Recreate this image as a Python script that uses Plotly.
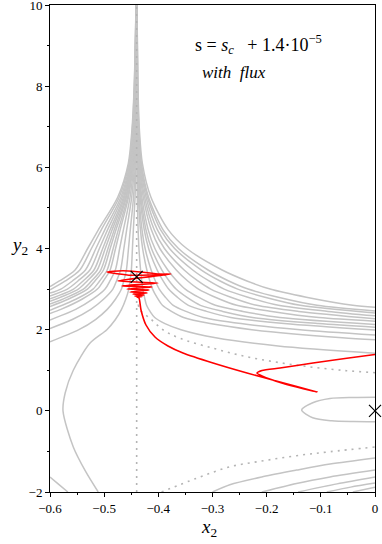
import plotly.graph_objects as go

# ---- level curves left of the spike (enter at x=-0.6, rise into the spike) ----
GRID_L = [2.0, 2.25, 2.5, 2.75, 3.0, 3.2, 3.47, 4.0, 4.46, 5.27, 6.1, 6.93, 8.0, 10.0]
LEFT_EDGE_Y = [1.70, 2.03, 2.24, 2.40, 2.48, 2.57, 2.63, 2.70, 2.76, 2.83, 2.90, 2.98, 3.06]
LEFT_X = [
    [-0.5467, -0.5160, -0.4943, -0.4792, -0.4681, -0.4639, -0.4590, -0.4551, -0.4518, -0.4458, -0.4426, -0.4415, -0.4408, -0.4402],
    [-0.5588, -0.5248, -0.5012, -0.4839, -0.4773, -0.4697, -0.4636, -0.4585, -0.4491, -0.4440, -0.4423, -0.4412, -0.4403],
    [-0.5526, -0.5212, -0.4983, -0.4894, -0.4794, -0.4714, -0.4645, -0.4521, -0.4453, -0.4430, -0.4416, -0.4404],
    [-0.5800, -0.5410, -0.5125, -0.5015, -0.4890, -0.4790, -0.4705, -0.4550, -0.4467, -0.4438, -0.4420, -0.4405],
    [-0.5523, -0.5206, -0.5084, -0.4945, -0.4834, -0.4739, -0.4567, -0.4474, -0.4442, -0.4422, -0.4406],
    [-0.5667, -0.5309, -0.5171, -0.5014, -0.4889, -0.4782, -0.4588, -0.4483, -0.4447, -0.4425, -0.4406],
    [-0.5770, -0.5383, -0.5234, -0.5064, -0.4929, -0.4814, -0.4603, -0.4490, -0.4451, -0.4427, -0.4407],
    [-0.5477, -0.5314, -0.5128, -0.4980, -0.4853, -0.4623, -0.4499, -0.4456, -0.4430, -0.4407],
    [-0.5566, -0.5389, -0.5188, -0.5027, -0.4890, -0.4641, -0.4507, -0.4460, -0.4432, -0.4408],
    [-0.5679, -0.5485, -0.5264, -0.5088, -0.4938, -0.4665, -0.4517, -0.4466, -0.4435, -0.4409],
    [-0.5800, -0.5587, -0.5346, -0.5153, -0.4989, -0.4690, -0.4528, -0.4472, -0.4439, -0.4410],
    [-0.5716, -0.5449, -0.5235, -0.5053, -0.4721, -0.4542, -0.4480, -0.4443, -0.4411],
    [-0.5827, -0.5537, -0.5305, -0.5108, -0.4748, -0.4554, -0.4487, -0.4446, -0.4412],
]

# innermost left branch: comes up from the bottom edge, bulges left, then climbs the spike
C_CURVE_X = [-0.511, -0.534, -0.557, -0.576, -0.572, -0.557, -0.526,
             -0.495, -0.4792, -0.468, -0.4602, -0.4545, -0.4523, -0.4498, -0.4478,
             -0.4461, -0.4430, -0.4413, -0.4408, -0.4404, -0.4401]
C_CURVE_Y = [-2.0, -1.5, -0.89, 0.0, 0.44, 1.0, 1.67,
             2.0, 2.25, 2.5, 2.75, 3.0, 3.2, 3.47, 4.0, 4.46, 5.27, 6.1, 6.93, 8.0, 10.0]

# lower piece of the outermost-but-one left level
BL_X = [-0.6, -0.585, -0.567]
BL_Y = [-1.63, -1.8, -2.0]

# ---- level curves right of the spike (leave at x=0) ----
GRID_R = [1.6, 1.8, 2.0, 2.15, 2.3, 2.45, 2.6, 2.8, 3.0, 3.2, 3.47, 4.0, 4.46, 5.27, 6.1, 6.93, 8.0, 10.0]
RIGHT_EDGE_Y = [1.42, 1.75, 1.87, 1.99, 2.06, 2.13, 2.21, 2.27, 2.34, 2.41, 2.46, 2.55]
RIGHT_X = [
    [-0.179, -0.294, -0.3582, -0.3878, -0.4067, -0.4153, -0.4217, -0.4256, -0.4287, -0.4307, -0.4328, -0.4358, -0.4373, -0.4388, -0.4395, -0.4398, -0.4399, -0.4400],
    [-0.0604, -0.2273, -0.3043, -0.3534, -0.3758, -0.3924, -0.4027, -0.4106, -0.4157, -0.4212, -0.4290, -0.4330, -0.4369, -0.4388, -0.4394, -0.4397, -0.4399],
    [-0.1382, -0.2474, -0.3171, -0.3489, -0.3725, -0.3870, -0.3983, -0.4055, -0.4133, -0.4244, -0.4301, -0.4356, -0.4382, -0.4392, -0.4396, -0.4399],
    [-0.1675, -0.2662, -0.3111, -0.3445, -0.3650, -0.3810, -0.3912, -0.4022, -0.4179, -0.4260, -0.4337, -0.4375, -0.4388, -0.4394, -0.4398],
    [-0.1044, -0.2259, -0.2812, -0.3223, -0.3477, -0.3673, -0.3799, -0.3934, -0.4127, -0.4228, -0.4323, -0.4369, -0.4385, -0.4393, -0.4398],
    [-0.1756, -0.2439, -0.2947, -0.3260, -0.3503, -0.3658, -0.3825, -0.4063, -0.4187, -0.4305, -0.4362, -0.4382, -0.4391, -0.4397],
    [-0.1037, -0.1905, -0.2552, -0.2950, -0.3259, -0.3457, -0.3669, -0.3972, -0.4129, -0.4279, -0.4352, -0.4377, -0.4389, -0.4397],
    [-0.1411, -0.2186, -0.2662, -0.3033, -0.3270, -0.3524, -0.3887, -0.4076, -0.4255, -0.4342, -0.4372, -0.4387, -0.4396],
    [-0.0868, -0.1783, -0.2347, -0.2784, -0.3064, -0.3365, -0.3794, -0.4017, -0.4228, -0.4331, -0.4367, -0.4385, -0.4395],
    [-0.1380, -0.2031, -0.2535, -0.2859, -0.3205, -0.3700, -0.3958, -0.4202, -0.4321, -0.4362, -0.4382, -0.4395],
    [-0.1069, -0.1786, -0.2343, -0.2700, -0.3082, -0.3628, -0.3912, -0.4182, -0.4313, -0.4359, -0.4380, -0.4394],
    [-0.0411, -0.1269, -0.1937, -0.2364, -0.2822, -0.3476, -0.3816, -0.4138, -0.4295, -0.4350, -0.4376, -0.4393],
]

# ---- bottom-right level curves ----
BOTTOM_CURVES = [
    ([-0.300, -0.268, -0.206, -0.145, -0.083, 0.0], [-2.0, -1.82, -1.62, -1.46, -1.31, -1.16]),
    ([-0.209, -0.145, -0.083, 0.0], [-2.0, -1.79, -1.63, -1.46]),
    ([-0.142, -0.070, 0.0], [-2.0, -1.80, -1.63]),
    ([-0.089, -0.045, 0.0], [-2.0, -1.88, -1.78]),
    ([-0.041, 0.0], [-2.0, -1.88]),
]

# closed level around the equilibrium at the origin
OVAL_X = [0.0, -0.04, -0.083, -0.115, -0.1354, -0.115, -0.08, -0.04, 0.0]
OVAL_Y = [0.335, 0.33, 0.305, 0.2, 0.02, -0.17, -0.245, -0.265, -0.27]

# dotted curves
VLINE_X = [-0.44, -0.44]
VLINE_Y = [-2.0, 10.0]
SEP_X = [-0.437, -0.4339, -0.4154, -0.3908, -0.36, -0.2985, -0.2369, -0.1754, -0.1139, -0.0523, 0.0]
SEP_Y = [2.62, 2.485, 2.28, 1.992, 1.787, 1.541, 1.334, 1.186, 1.073, 0.989, 0.94]
SEP2_X = [-0.394, -0.329, -0.268, -0.206, -0.145, -0.083, 0.0]
SEP2_Y = [-2.0, -1.66, -1.38, -1.23, -1.105, -1.007, -0.89]

# red trajectory
RED_X = [-0.3850, -0.4650, -0.4948, -0.4500, -0.3766, -0.4745, -0.4006, -0.4671, -0.4117,
         -0.4578, -0.4172, -0.4523, -0.4209, -0.4468, -0.4265, -0.4431, -0.4302, -0.4394,
         -0.4357, -0.4320, -0.4228, -0.4062, -0.3822, -0.3545, -0.2991, -0.2363, -0.1754,
         -0.1071, -0.1662, -0.2086, -0.2178, -0.2086, -0.1754, -0.1145, -0.0554, 0.0]
RED_Y = [3.35, 3.45, 3.421, 3.34, 3.372, 3.200, 3.150, 3.076, 3.052,
         3.002, 2.978, 2.928, 2.904, 2.879, 2.854, 2.830, 2.818, 2.805,
         2.780, 2.485, 2.115, 1.819, 1.598, 1.425, 1.179, 0.932, 0.711,
         0.464, 0.661, 0.858, 0.932, 0.994, 1.056, 1.179, 1.290, 1.388]

# equilibria
EQ_X = [-0.44, 0.0]
EQ_Y = [3.3, 0.0]

GRAY = "#c4c4c4"
DOT = "#b4b4b4"
FONT = "Liberation Serif, Times New Roman, Times, DejaVu Serif, serif"

fig = go.Figure()


def gray_line(xs, ys):
    fig.add_trace(go.Scatter(x=xs, y=ys, mode="lines", hoverinfo="skip",
                             line=dict(color=GRAY, width=1.5, shape="spline", smoothing=0.8),
                             showlegend=False))


for edge_y, xs in zip(LEFT_EDGE_Y, LEFT_X):
    gray_line([-0.6] + xs, [edge_y] + GRID_L[len(GRID_L) - len(xs):])
for edge_y, xs in zip(RIGHT_EDGE_Y, RIGHT_X):
    gray_line([0.0] + xs, [edge_y] + GRID_R[len(GRID_R) - len(xs):])
gray_line(C_CURVE_X, C_CURVE_Y)
gray_line(BL_X, BL_Y)
for xs, ys in BOTTOM_CURVES:
    gray_line(xs, ys)
gray_line(OVAL_X, OVAL_Y)

for xs, ys in [(VLINE_X, VLINE_Y), (SEP_X, SEP_Y), (SEP2_X, SEP2_Y)]:
    fig.add_trace(go.Scatter(x=xs, y=ys, mode="lines", showlegend=False, hoverinfo="skip",
                             line=dict(color=DOT, width=1.6, dash="2px,5px", shape="spline")))

fig.add_trace(go.Scatter(x=RED_X, y=RED_Y, mode="lines", showlegend=False,
                         line=dict(color="#ff0000", width=1.6, shape="spline", smoothing=0.6)))

fig.add_trace(go.Scatter(x=EQ_X, y=EQ_Y, mode="markers", showlegend=False, cliponaxis=False,
                         marker=dict(symbol="x-thin-open", size=12, color="black",
                                     line=dict(color="black", width=1.2))))

axis_common = dict(showgrid=False, zeroline=False, showline=True, linecolor="black",
                   linewidth=1, mirror=True, ticks="outside", ticklen=4, tickcolor="black",
                   automargin=False, ticklabeloverflow="allow",
                   tickfont=dict(family=FONT, size=13, color="black"))

fig.update_xaxes(range=[-0.6, 0], tickvals=[-0.6, -0.5, -0.4, -0.3, -0.2, -0.1, 0],
                 ticktext=["\u22120.6", "\u22120.5", "\u22120.4", "\u22120.3", "\u22120.2", "\u22120.1", "0"],
                 minor=dict(ticks="outside", ticklen=2, tickcolor="black", dtick=0.05, tick0=0),
                 **axis_common)
fig.update_yaxes(range=[-2, 10], tickvals=[-2, 0, 2, 4, 6, 8, 10],
                 ticktext=["\u22122", "0", "2", "4", "6", "8", "10"],
                 minor=dict(ticks="outside", ticklen=2, tickcolor="black", dtick=1, tick0=0),
                 **axis_common)

fig.update_layout(
    width=382, height=544,
    margin=dict(l=50, r=7, t=5, b=52),
    plot_bgcolor="white", paper_bgcolor="white",
    font=dict(family=FONT, color="black"),
    annotations=[
        dict(text="s = <i>s</i><sub><i>c</i></sub>   + 1.4\u00b710<sup>\u22125</sup>",
             x=0.44, y=0.918, xref="paper", yref="paper", xanchor="left", yanchor="middle",
             showarrow=False, font=dict(family=FONT, size=18)),
        dict(text="<i>with  flux</i>", x=0.46, y=0.862, xref="paper", yref="paper",
             xanchor="left", yanchor="middle", showarrow=False, font=dict(family=FONT, size=17)),
        dict(text="<i>x</i><sub>2</sub>", x=0.49, y=-0.074, xref="paper", yref="paper",
             xanchor="center", yanchor="middle", showarrow=False, font=dict(family=FONT, size=19)),
        dict(text="<i>y</i><sub>2</sub>", x=-0.095, y=0.505, xref="paper", yref="paper",
             xanchor="center", yanchor="middle", showarrow=False, font=dict(family=FONT, size=19)),
    ],
)

# the page's default body margin would shift the 382x544 figure off the window
fig.write_html("out.html", config={"displayModeBar": False},
               post_script="document.body.style.margin = '0';")
